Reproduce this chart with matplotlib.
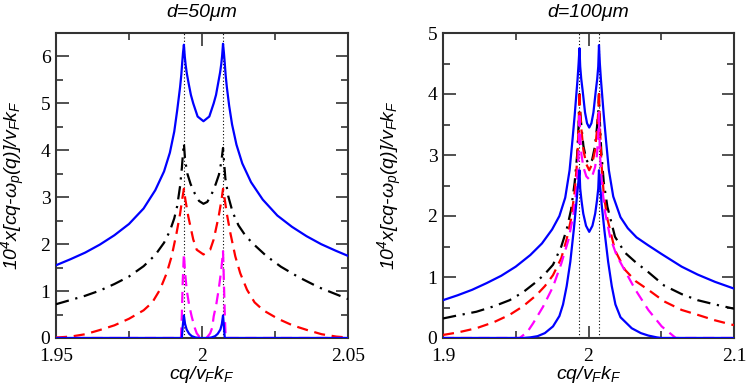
import matplotlib.pyplot as plt
from matplotlib.ticker import MultipleLocator, FormatStrFormatter

plt.rcParams['mathtext.fontset'] = 'custom'
plt.rcParams['mathtext.it'] = 'Liberation Sans:italic'
plt.rcParams['mathtext.rm'] = 'Liberation Sans:italic'
plt.rcParams['mathtext.default'] = 'it'

# peak positions (dotted lines)
x_peaks = [1.9938, 2.0072]

# ---- d = 50 um ----
x50_blue_hi = [1.950, 1.955, 1.960, 1.965, 1.970, 1.975, 1.980, 1.984, 1.987, 1.989, 1.9905, 1.9915, 1.9920,
               1.9925, 1.9929, 1.9932, 1.9935, 1.9938, 1.9941, 1.9944, 1.9948, 1.9955, 1.9962, 1.9970,
               1.9985, 2.0005, 2.0025, 2.0040, 2.0048, 2.0055, 2.0062, 2.0066, 2.0069, 2.0072, 2.0075,
               2.0078, 2.0081, 2.0085, 2.0093, 2.0103, 2.0118, 2.0138, 2.0168, 2.0208, 2.0258, 2.0308,
               2.0358, 2.0408, 2.0458, 2.0500]
y50_blue_hi = [1.55, 1.68, 1.82, 1.99, 2.19, 2.43, 2.76, 3.15, 3.55, 3.95, 4.40, 4.85, 5.10,
               5.35, 5.60, 5.85, 6.08, 6.25, 6.00, 5.82, 5.64, 5.40, 5.18, 5.00,
               4.72, 4.62, 4.72, 5.00, 5.18, 5.42, 5.66, 5.84, 6.02, 6.27, 6.08,
               5.85, 5.60, 5.35, 4.95, 4.55, 4.12, 3.72, 3.32, 2.95, 2.61, 2.37,
               2.17, 2.00, 1.86, 1.75]

x50_black = [1.950, 1.955, 1.960, 1.965, 1.970, 1.975, 1.980, 1.984, 1.987, 1.989, 1.9905, 1.9915, 1.9925,
             1.9931, 1.9935, 1.9938, 1.9942, 1.9950, 1.9961, 1.9976, 1.9990, 2.0005, 2.0018, 2.0032, 2.0047,
             2.0058, 2.0066, 2.0072, 2.0075, 2.0080, 2.0090, 2.0105, 2.0125, 2.015, 2.018, 2.022, 2.027,
             2.033, 2.040, 2.050]
y50_black = [0.72, 0.81, 0.90, 1.01, 1.15, 1.31, 1.53, 1.77, 2.03, 2.28, 2.55, 2.81, 3.24,
             3.62, 3.95, 4.15, 3.80, 3.50, 3.28, 3.07, 2.92, 2.86, 2.90, 3.05, 3.28,
             3.48, 3.75, 4.05, 3.80, 3.40, 3.02, 2.68, 2.40, 2.17, 1.98, 1.75, 1.52,
             1.30, 1.08, 0.83]

x50_red = [1.950, 1.955, 1.960, 1.965, 1.970, 1.975, 1.980, 1.983, 1.9856, 1.9879, 1.9896, 1.9913, 1.9925,
           1.9932, 1.9938, 1.9943, 1.9953, 1.9970, 1.9982, 2.0005, 2.0028, 2.0040, 2.0057, 2.0067, 2.0072,
           2.0078, 2.0085, 2.0097, 2.0114, 2.0131, 2.0154, 2.018, 2.021, 2.026, 2.031, 2.036, 2.041,
           2.046, 2.050]
y50_red = [0.01, 0.03, 0.08, 0.17, 0.27, 0.41, 0.59, 0.76, 1.03, 1.38, 1.74, 2.24, 2.65,
           2.95, 3.18, 2.95, 2.59, 2.10, 1.88, 1.78, 1.88, 2.10, 2.59, 2.95, 3.18,
           2.95, 2.65, 2.24, 1.74, 1.38, 1.03, 0.76, 0.59, 0.41, 0.27, 0.17, 0.08,
           0.03, 0.01]

x50_magenta = [1.950, 1.9928, 1.9931, 1.9934, 1.9938, 1.9942, 1.99475, 1.9956, 1.99646, 1.9975, 1.9982,
               1.9992, 2.0005, 2.0018, 2.0028, 2.0035, 2.0040, 2.0049, 2.0057, 2.0066, 2.0072, 2.0075,
               2.0078, 2.0081, 2.050]
y50_magenta = [0, 0, 0.5, 1.2, 1.80, 1.40, 1.03, 0.70, 0.46, 0.22, 0.10,
               0.02, 0, 0.02, 0.10, 0.22, 0.46, 0.72, 1.03, 1.45, 1.85, 1.2,
               0.5, 0, 0]

x50_blue_lo = [1.950, 1.9931, 1.9934, 1.9938, 1.9942, 1.99475, 1.9956, 1.9965, 1.9978, 1.9992, 2.0018,
               2.0032, 2.0045, 2.0054, 2.0063, 2.0068, 2.0072, 2.0075, 2.0078, 2.050]
y50_blue_lo = [0, 0, 0.25, 0.48, 0.30, 0.18, 0.09, 0.04, 0.01, 0, 0,
               0.01, 0.04, 0.09, 0.18, 0.30, 0.48, 0.25, 0, 0]

# ---- d = 100 um ----
x100_blue_hi = [1.900, 1.910, 1.920, 1.930, 1.940, 1.950, 1.960, 1.968, 1.975, 1.980, 1.984, 1.987, 1.989,
                1.9905, 1.9915, 1.9925, 1.9932, 1.9938, 1.9943, 1.9950, 1.9960, 1.9976, 1.9990, 2.0005,
                2.0020, 2.0034, 2.0050, 2.0060, 2.0067, 2.0072, 2.0078, 2.0085, 2.0095, 2.0105, 2.012,
                2.014, 2.017, 2.022, 2.027, 2.033, 2.041, 2.050, 2.064, 2.075, 2.087, 2.100]
y100_blue_hi = [0.62, 0.70, 0.79, 0.90, 1.02, 1.17, 1.36, 1.55, 1.78, 2.00, 2.30, 2.75, 3.25,
                3.65, 3.95, 4.25, 4.50, 4.75, 4.45, 4.25, 4.05, 3.70, 3.52, 3.45,
                3.52, 3.70, 4.05, 4.25, 4.45, 4.80, 4.50, 4.25, 3.95, 3.65, 3.25,
                2.75, 2.32, 1.98, 1.80, 1.65, 1.52, 1.38, 1.17, 1.04, 0.92, 0.81]

x100_black = [1.900, 1.910, 1.9229, 1.935, 1.9458, 1.955, 1.9641, 1.970, 1.9756, 1.9813, 1.985, 1.988,
              1.9905, 1.9922, 1.9932, 1.9938, 1.9943, 1.9952, 1.9965, 1.9985, 2.0005, 2.0025, 2.0045,
              2.0058, 2.0067, 2.0072, 2.0078, 2.0088, 2.0105, 2.013, 2.0182, 2.025, 2.0325, 2.0411,
              2.052, 2.064, 2.075, 2.0869, 2.100]
y100_black = [0.32, 0.37, 0.43, 0.52, 0.62, 0.75, 0.92, 1.05, 1.20, 1.50, 1.78, 2.10,
              2.55, 3.00, 3.50, 4.00, 3.70, 3.45, 3.15, 2.92, 2.85, 2.92, 3.15,
              3.45, 3.70, 4.00, 3.55, 3.05, 2.55, 2.15, 1.66, 1.40, 1.24, 1.08,
              0.86, 0.72, 0.62, 0.55, 0.48]

x100_red = [1.900, 1.910, 1.9229, 1.935, 1.9458, 1.955, 1.9641, 1.970, 1.9756, 1.9813, 1.985, 1.988,
            1.9905, 1.9922, 1.9932, 1.9938, 1.9943, 1.9952, 1.9965, 1.9985, 2.0005, 2.0025, 2.0045,
            2.0058, 2.0067, 2.0072, 2.0078, 2.0088, 2.0105, 2.013, 2.0182, 2.025, 2.0325, 2.0411,
            2.052, 2.064, 2.075, 2.0869, 2.100]
y100_red = [0.05, 0.09, 0.16, 0.26, 0.38, 0.52, 0.70, 0.85, 1.03, 1.31, 1.62, 1.95,
            2.40, 2.90, 3.45, 4.05, 3.70, 3.40, 3.08, 2.85, 2.75, 2.85, 3.08,
            3.40, 3.70, 4.05, 3.50, 2.90, 2.35, 1.95, 1.44, 1.12, 0.93, 0.79,
            0.60, 0.46, 0.38, 0.29, 0.21]

x100_magenta = [1.900, 1.9527, 1.958, 1.9619, 1.9687, 1.9756, 1.9813, 1.9861, 1.9895, 1.9918, 1.9932,
                1.9938, 1.9943, 1.9952, 1.9965, 1.9985, 2.0005, 2.0025, 2.0045, 2.0058, 2.0067, 2.0072,
                2.0078, 2.0092, 2.0115, 2.0149, 2.0194, 2.0251, 2.032, 2.0411, 2.0503, 2.060, 2.100]
y100_magenta = [0, 0, 0.10, 0.24, 0.51, 0.84, 1.22, 1.60, 2.00, 2.45, 3.00,
                3.70, 3.30, 3.00, 2.80, 2.65, 2.60, 2.65, 2.80, 3.00, 3.30, 3.70,
                3.05, 2.50, 2.05, 1.65, 1.35, 1.10, 0.80, 0.46, 0.19, 0, 0]

x100_blue_lo = [1.900, 1.955, 1.960, 1.965, 1.970, 1.9756, 1.980, 1.9825, 1.985, 1.9875, 1.990, 1.992,
                1.9932, 1.9938, 1.9943, 1.9952, 1.9964, 1.9983, 2.0005, 2.0027, 2.0046, 2.0058, 2.0067,
                2.0072, 2.0078, 2.009, 2.011, 2.0135, 2.016, 2.0185, 2.022, 2.0297, 2.036, 2.0411,
                2.047, 2.050, 2.100]
y100_blue_lo = [0, 0, 0.01, 0.03, 0.08, 0.19, 0.36, 0.55, 0.85, 1.25, 1.80, 2.30,
                2.60, 2.75, 2.45, 2.25, 2.04, 1.84, 1.74, 1.84, 2.04, 2.25, 2.45,
                2.75, 2.55, 2.20, 1.75, 1.25, 0.85, 0.55, 0.34, 0.16, 0.08, 0.04,
                0.01, 0, 0]

fig = plt.figure(figsize=(7.47, 3.89), dpi=100)
ax1 = fig.add_axes([56/747, 1-338/389, 292/747, 305/389])
ax2 = fig.add_axes([443/747, 1-338/389, 291/747, 305/389])

dash = (0, (5, 3))
dashdot = (0, (6, 3, 1, 3))
lw = 1.6


def draw(ax, bh, bk, rd, mg, bl):
    for xp in x_peaks:
        ax.axvline(xp, color='black', lw=0.8, ls=(0, (1, 2)), zorder=1)
    ax.plot(*bh, color='#0000ff', lw=lw, zorder=3)
    ax.plot(*bk, color='black', lw=lw, ls=dashdot, zorder=3)
    ax.plot(*rd, color='#ff0000', lw=lw, ls=dash, zorder=3)
    ax.plot(*mg, color='#ff00ff', lw=lw, ls=dash, zorder=3)
    ax.plot(*bl, color='#0000ff', lw=lw, zorder=3)


draw(ax1, (x50_blue_hi, y50_blue_hi), (x50_black, y50_black), (x50_red, y50_red),
     (x50_magenta, y50_magenta), (x50_blue_lo, y50_blue_lo))
draw(ax2, (x100_blue_hi, y100_blue_hi), (x100_black, y100_black), (x100_red, y100_red),
     (x100_magenta, y100_magenta), (x100_blue_lo, y100_blue_lo))

ax1.set_xlim(1.95, 2.05)
ax1.set_ylim(0, 6.5)
ax1.xaxis.set_major_locator(MultipleLocator(0.05))
ax1.xaxis.set_minor_locator(MultipleLocator(0.025))
ax1.yaxis.set_major_locator(MultipleLocator(1))
ax1.yaxis.set_minor_locator(MultipleLocator(0.5))

ax2.set_xlim(1.9, 2.1)
ax2.set_ylim(0, 5)
ax2.xaxis.set_major_locator(MultipleLocator(0.1))
ax2.xaxis.set_minor_locator(MultipleLocator(0.05))
ax2.yaxis.set_major_locator(MultipleLocator(1))
ax2.yaxis.set_minor_locator(MultipleLocator(0.5))

ylab = r'10$^4$x[cq-$\omega_p$(q)]/v$_F$k$_F$'
xlab = r'cq/v$_F$k$_F$'
for ax, title, ylx in [(ax1, 'd=50\u03bcm', -0.1), (ax2, 'd=100\u03bcm', -0.135)]:
    ax.xaxis.set_major_formatter(FormatStrFormatter('%g'))
    ax.tick_params(which='both', direction='in', top=True, right=True, colors='#333333',
                   labelcolor='black', labelsize=14, pad=4)
    ax.tick_params(axis='x', which='both', pad=7)
    ax.tick_params(which='major', length=9, width=1.2)
    ax.tick_params(which='minor', length=5, width=1.2)
    for lab in ax.get_xticklabels() + ax.get_yticklabels():
        lab.set_family('Liberation Serif')
    for s in ax.spines.values():
        s.set_color('#333333')
        s.set_linewidth(1.5)
    ax.set_ylabel(ylab, family='Liberation Sans', style='italic', fontsize=14)
    ax.yaxis.set_label_coords(ylx, 0.5)
    ax.set_xlabel(xlab, family='Liberation Sans', style='italic', fontsize=14)
    ax.xaxis.set_label_coords(0.5, -0.085)
    ax.text(0.5, 1.068, title, transform=ax.transAxes, ha='center', va='center',
            family='Liberation Sans', style='italic', fontsize=14)

plt.savefig('out.png', dpi=100)
